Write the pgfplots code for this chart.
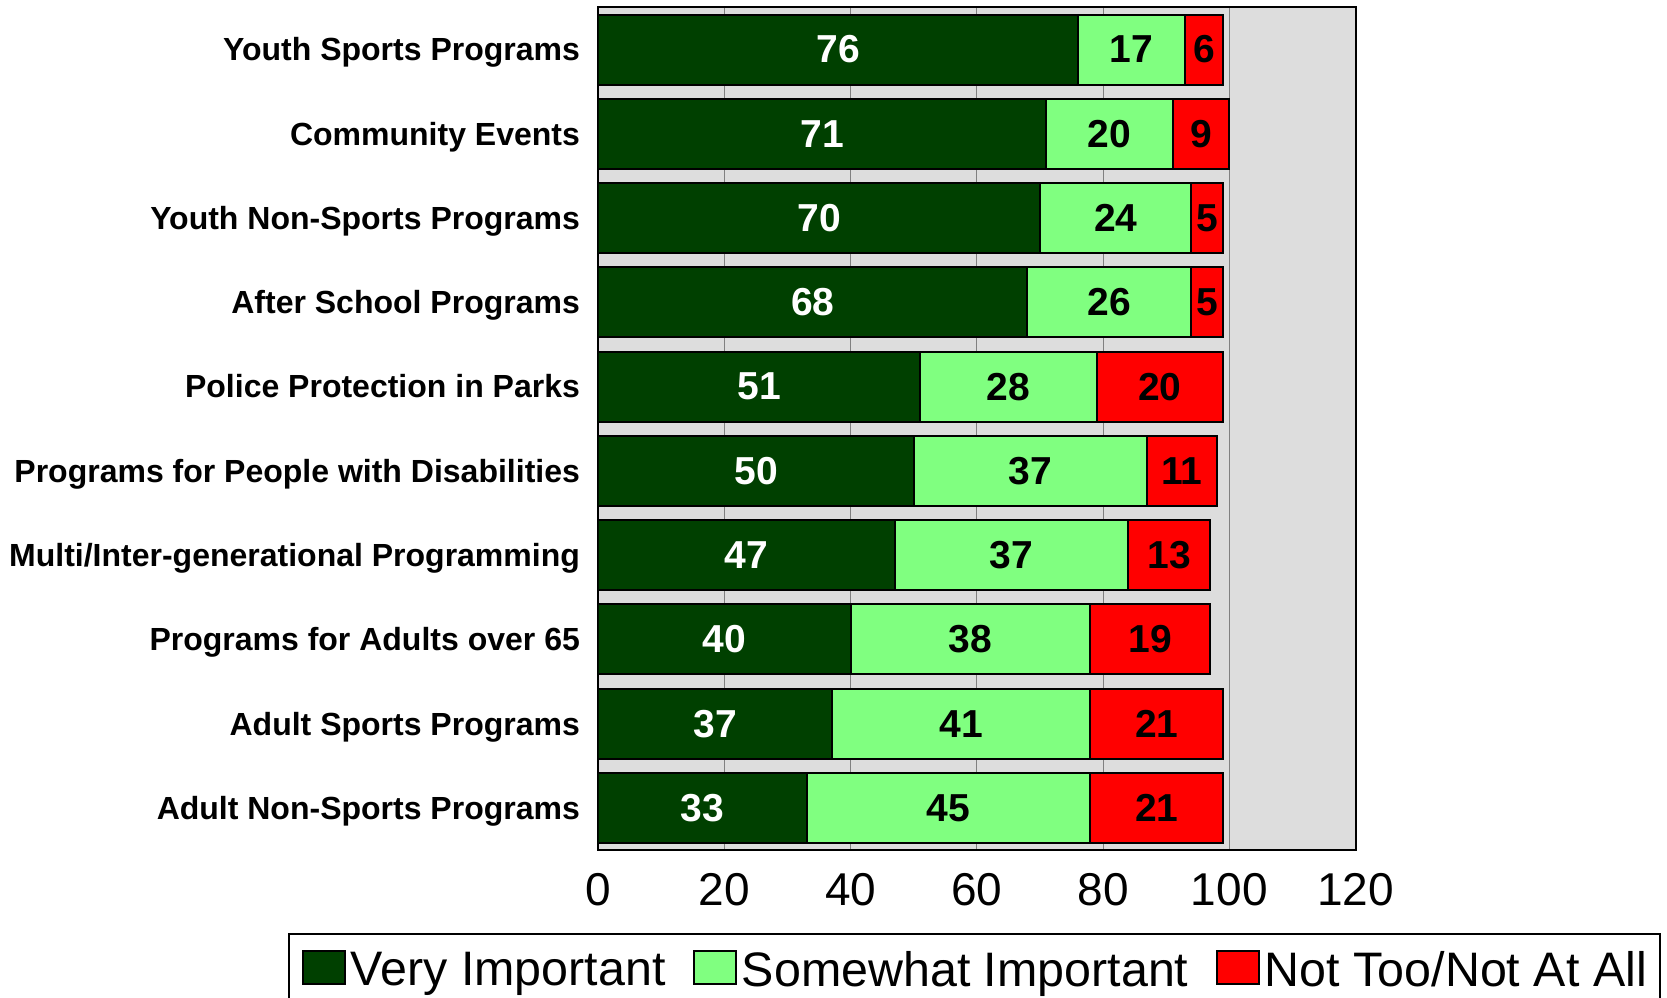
\documentclass[border=0pt]{standalone}
\usepackage{fontspec}
\setmainfont{Liberation Sans}
\usepackage{pgfplots}
\usepackage{pgfplotstable}
\pgfplotsset{compat=1.18}
\definecolor{vgreen}{HTML}{004000}
\definecolor{sgreen}{HTML}{80FF80}
\definecolor{nred}{HTML}{FF0000}
\definecolor{bggray}{HTML}{DDDDDD}
\definecolor{gridgray}{HTML}{808080}
\pgfplotstableread{
idx very some not
0 76 17 6
1 71 20 9
2 70 24 5
3 68 26 5
4 51 28 20
5 50 37 11
6 47 37 13
7 40 38 19
8 37 41 21
9 33 45 21
}\data
\begin{document}
\begin{tikzpicture}
\path[use as bounding box] (0,0) rectangle (833.5pt,498.5pt);
\begin{axis}[
  at={(299.15pt,73.5pt)}, anchor=south west,
  scale only axis, width=378.6pt, height=421.3pt,
  xbar stacked, bar width=0.83,
  xmin=0, xmax=120, ymin=-0.5, ymax=9.5, y dir=reverse,
  xtick={0,20,...,120},
  ytick={0,...,9},
  yticklabels={Youth Sports Programs, Community Events, Youth Non-Sports Programs, After School Programs, Police Protection in Parks, Programs for People with Disabilities, Multi/Inter-generational Programming, Programs for Adults over 65, Adult Sports Programs, Adult Non-Sports Programs},
  major tick length=0pt,
  xmajorgrids, grid style={gridgray, line width=0.5pt},
  axis background/.style={fill=bggray},
  axis line style={line width=1pt},
  /pgf/number format/assume math mode=true,
  xticklabel style={font=\fontsize{23}{23}\selectfont, inner sep=0pt, anchor=north, yshift=-11.3pt},
  yticklabel style={font=\fontsize{16}{16}\selectfont\bfseries, inner sep=0pt, anchor=base east, xshift=-9pt, yshift=-5.7pt},
  point meta=rawx,
  nodes near coords={\pgfmathprintnumber[fixed,precision=0]{\pgfplotspointmeta}},
  nodes near coords style={font=\fontsize{19.5}{20}\selectfont\bfseries, anchor=center, inner sep=0pt},
  legend style={at={(-0.4098,-0.0985)}, anchor=north west, draw=black, line width=1pt, inner xsep=6.5pt, inner ysep=8pt, font=\fontsize{24.2}{25}\selectfont, cells={anchor=west}, nodes={inner sep=0pt, text depth=0.15em}, /tikz/every odd column/.append style={column sep=2.4pt}, /tikz/every even column/.append style={column sep=13.8pt}},
  legend columns=3,
  legend image code/.code={\draw[#1, line width=1pt] (0pt,-6.75pt) rectangle (21pt,9.75pt);},
]
\addplot[fill=vgreen, draw=black, line width=1pt, every node near coord/.append style={text=white}] table[x=very,y=idx]{\data};
\addplot[fill=sgreen, draw=black, line width=1pt, every node near coord/.append style={text=black}] table[x=some,y=idx]{\data};
\addplot[fill=nred, draw=black, line width=1pt, every node near coord/.append style={text=black}] table[x=not,y=idx]{\data};
\legend{Very Important, Somewhat Important, Not Too/Not At All}
\end{axis}
\end{tikzpicture}
\end{document}
